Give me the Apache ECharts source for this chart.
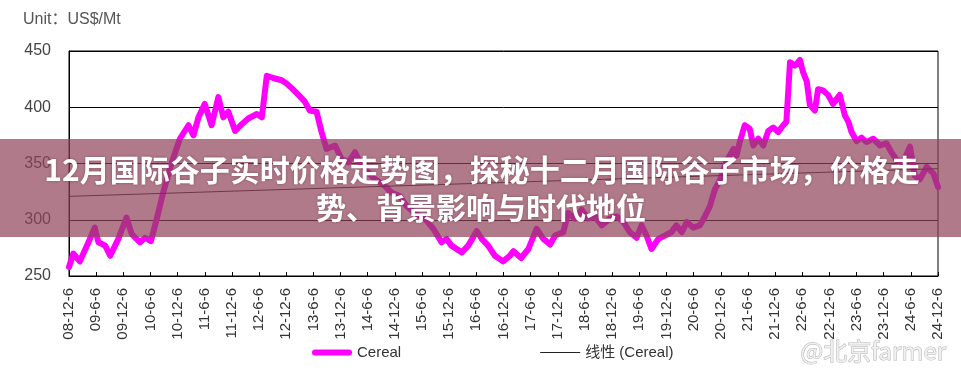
<!DOCTYPE html>
<html>
<head>
<meta charset="utf-8">
<script src="https://cdn.jsdelivr.net/npm/echarts@6/dist/echarts.min.js"></script>
<style>
html,body{margin:0;padding:0;background:#fff;}
#chart{width:961px;height:376px;}
</style>
</head>
<body>
<div id="chart"></div>
<script>
// months since Dec 2008 (x positions)
const months = [0,0.95,2.4,4.3,5.7,6.5,8.0,9.1,10.9,12.7,13.9,15.7,16.8,18.1,19.4,20.8,22.7,24.5,26.4,27.5,28.6,30.0,31.5,33.0,34.1,35.2,36.7,38.2,39.6,41.5,42.6,43.7,45.1,47.0,48.1,49.2,50.7,52.1,53.2,54.7,55.8,56.9,58.8,60.2,61.7,63.2,64.3,66.1,67.6,69.8,71.3,73.1,74.6,76.4,78.6,80.5,82.3,83.4,84.5,86.8,88.2,90.1,91.2,92.6,94.1,95.9,97.4,98.2,99.9,101.5,103.3,104.8,106.3,107.4,109.2,110.3,111.8,113.3,114.7,116.2,117.7,119.5,121.0,122.5,123.9,125.4,126.5,127.6,128.7,130.2,131.7,133.1,134.2,135.4,136.5,137.9,139.4,140.5,141.6,142.7,143.8,145.3,146.8,147.5,148.2,149.3,150.4,151.2,152.3,153.4,154.5,155.6,156.7,157.8,158.5,159.3,160.4,161.5,162.2,163.0,163.7,164.8,165.5,166.6,167.7,168.8,170.3,171.4,172.2,172.9,174.0,175.1,176.2,177.7,179.2,180.6,181.7,182.9,184.3,185.8,186.9,188.0,189.5,191.0,192.0];
// Cereal price, US$/Mt
const cereal = [258,270,263,280,293,280,277,268,283,302,287,280,284,281,301,324,351,372,384,375,391,403,384,409,391,396,379,385,390,394,391,428,426,424,421,417,411,405,397,396,378,363,366,354,351,360,351,342,336,330,324,321,312,306,301,292,280,283,277,271,277,290,283,277,268,263,268,272,266,274,292,283,278,286,289,306,301,309,301,303,295,301,303,298,289,284,295,286,274,283,286,289,295,289,298,293,295,303,312,327,335,352,363,357,369,384,381,366,372,366,379,382,378,384,387,440,437,442,431,423,402,397,416,415,411,403,411,393,387,378,370,373,369,372,366,368,360,353,351,365,339,336,347,341,329];
// linear trend line values at first and last tick
const trendEnds = [320.8, 345.4];
// x tick labels, one every six months
const xTickLabels = ['08-12-6','09-6-6','09-12-6','10-6-6','10-12-6','11-6-6','11-12-6','12-6-6','12-12-6','13-6-6','13-12-6','14-6-6','14-12-6','15-6-6','15-12-6','16-6-6','16-12-6','17-6-6','17-12-6','18-6-6','18-12-6','19-6-6','19-12-6','20-6-6','20-12-6','21-6-6','21-12-6','22-6-6','22-12-6','23-6-6','23-12-6','24-6-6','24-12-6'];
const yTicks = [250,300,350,400,450];
const seriesNames = ['Cereal','线性 (Cereal)'];
const titleLines = ['12月国际谷子实时价格走势图，探秘十二月国际谷子市场，价格走','势、背景影响与时代地位'];
const unitText = 'Unit：US$/Mt';
const watermark = '@北京farmer';

const xMin = 0, xMax = (xTickLabels.length-1)*6;
const trend = [[xMin, trendEnds[0]],[xMax, trendEnds[1]]];

const FONT = '"Liberation Sans", Arial, "Noto Sans CJK SC", sans-serif';
const chart = echarts.init(document.getElementById('chart'), null, {renderer:'canvas'});
chart.setOption({
  animation:false,
  backgroundColor:'#fff',
  grid:{left:69,right:23,top:51,bottom:100,show:true,borderColor:'#000',borderWidth:1,backgroundColor:'transparent'},
  xAxis:{
    type:'value', min:xMin, max:xMax, interval:6,
    axisLine:{show:true,onZero:false,lineStyle:{color:'#000',width:1}},
    axisTick:{show:true,inside:true,length:4,lineStyle:{color:'#000'}},
    splitLine:{show:false},
    axisLabel:{rotate:90,margin:12,fontSize:15,color:'#333',fontFamily:FONT,
      formatter:function(v){return xTickLabels[Math.round(v/6)]||'';}}
  },
  yAxis:{
    type:'value', min:yTicks[0], max:yTicks[yTicks.length-1], interval:50,
    axisLine:{show:true,lineStyle:{color:'#000',width:1}},
    axisTick:{show:false},
    splitLine:{show:true,lineStyle:{color:'#000',width:1}},
    axisLabel:{margin:18,fontSize:16,color:'#444',fontFamily:FONT}
  },
  legend:{
    left:312, top:345, padding:0, itemWidth:40, itemHeight:14, itemGap:139,
    textStyle:{fontSize:15,color:'#333',fontFamily:FONT},
    data:[
      {name:seriesNames[0],icon:'path://M3,0L37,0A3,3,0,0,1,37,6L3,6A3,3,0,0,1,3,0Z',itemStyle:{color:'#ff00ff'}},
      {name:seriesNames[1],icon:'path://M0,0L40,0L40,1L0,1Z',itemStyle:{color:'#222'}}
    ]
  },
  series:[
    {name:seriesNames[0],type:'line',data:months.map((m,i)=>[m,cereal[i]]),symbol:'none',
     lineStyle:{color:'#ff00ff',width:6,join:'round',cap:'round'},itemStyle:{color:'#ff00ff'},z:2},
    {name:seriesNames[1],type:'line',data:trend,symbol:'none',
     lineStyle:{color:'#222',width:1},itemStyle:{color:'#222'},z:3}
  ],
  graphic:[
    {type:'text',left:23,top:12,style:{text:unitText,fontSize:16,fill:'#555',fontFamily:FONT}},
    {type:'rect',left:0,top:139,shape:{width:961,height:98},style:{fill:'rgba(142,65,88,0.7)'},z:10},
    {type:'text',x:482,y:170,z:11,style:{text:titleLines[0],fill:'#fff',font:'bold 30px "Noto Sans CJK SC", sans-serif',align:'center',verticalAlign:'middle',textShadowColor:'rgba(60,0,30,0.35)',textShadowBlur:3}},
    {type:'text',x:481,y:208,z:11,style:{text:titleLines[1],fill:'#fff',font:'bold 30px "Noto Sans CJK SC", sans-serif',align:'center',verticalAlign:'middle',textShadowColor:'rgba(60,0,30,0.35)',textShadowBlur:3}},
    {type:'text',left:800,top:338,z:11,style:{text:watermark,fill:'rgba(240,240,240,0.95)',stroke:'#b5b5b5',lineWidth:1,font:'24px "Noto Sans CJK SC", sans-serif'}}
  ]
});
</script>
</body>
</html>
